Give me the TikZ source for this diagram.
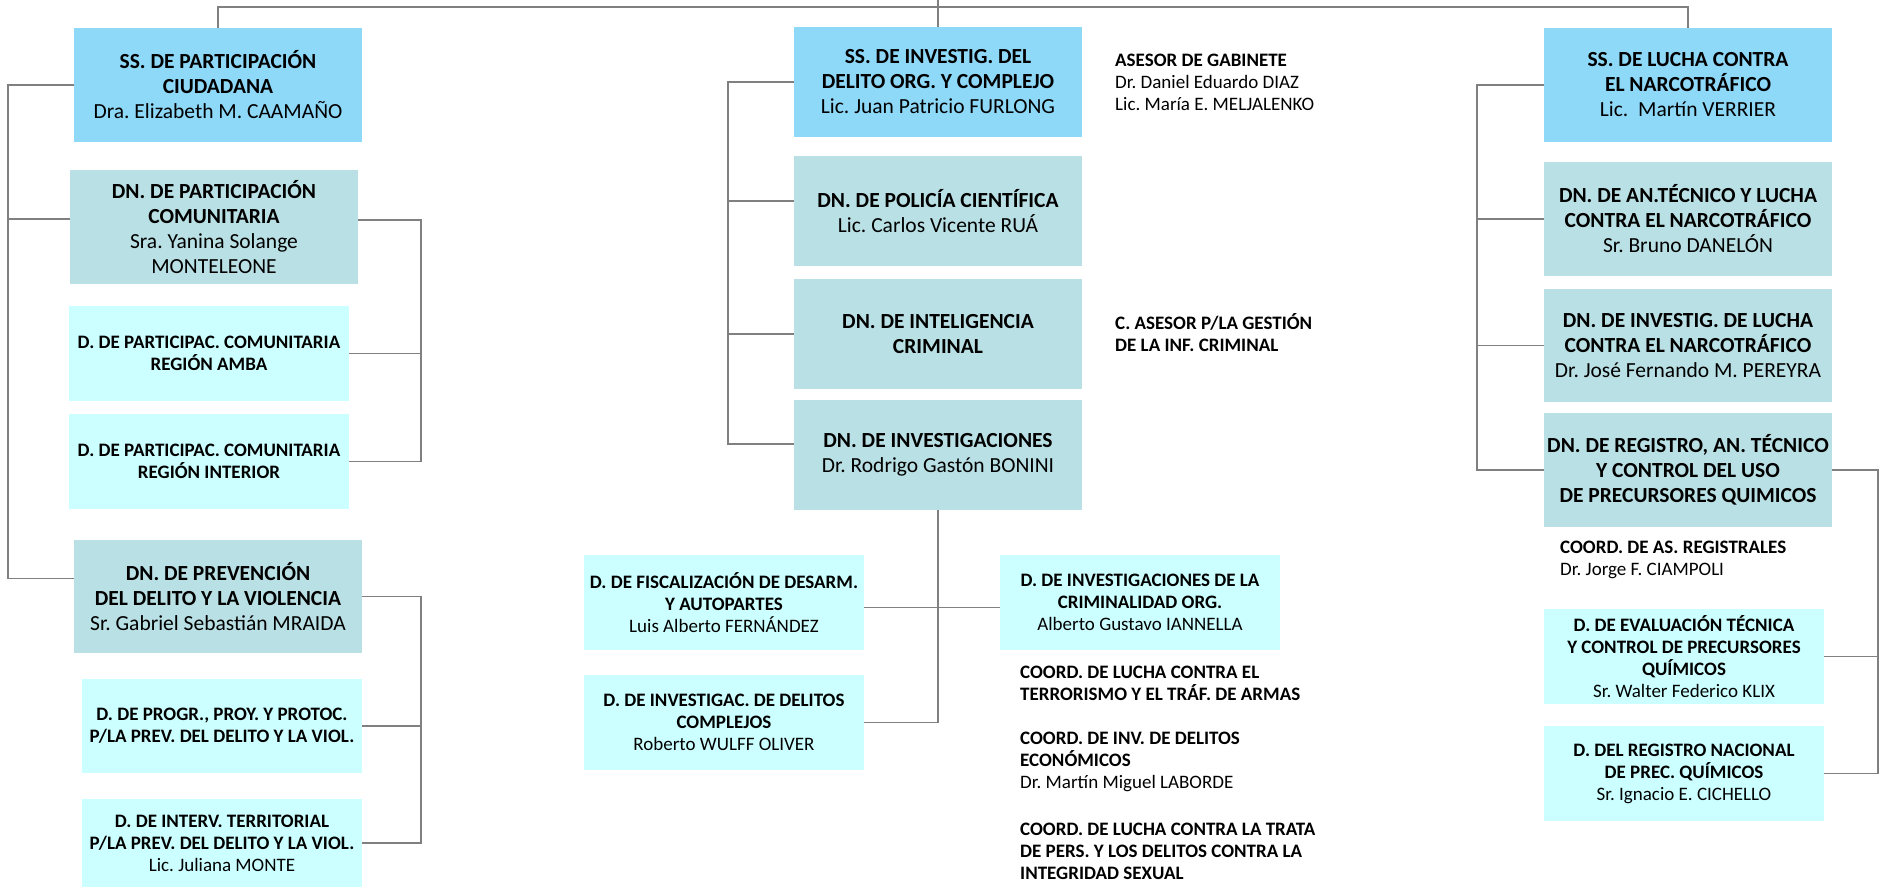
\documentclass[tikz,border=0pt]{standalone}
\usepackage{fontspec}
\setmainfont{Carlito}
\newcommand{\grande}{\fontsize{21.5}{25}\selectfont}
\newcommand{\chico}{\fontsize{19}{22}\selectfont}
\definecolor{celeste}{RGB}{142,216,248}
\definecolor{verdeagua}{RGB}{185,224,228}
\definecolor{cian}{RGB}{204,255,255}
\definecolor{gris}{RGB}{128,128,128}
\frenchspacing

\begin{document}
\begin{tikzpicture}[x=1pt,y=-1pt,
    caja/.style={rectangle,inner sep=0pt,align=center},
    ss/.style={caja,fill=celeste},
    dn/.style={caja,fill=verdeagua},
    dd/.style={caja,fill=cian},
    nota/.style={inner sep=0pt,anchor=west,align=left},
    linea/.style={draw=gris,line width=1.6pt}]

    \useasboundingbox (0,0) rectangle (1885,888);

    % izquierda: participación ciudadana
    \begin{scope}[every node/.append style={font=\grande}]
        \node[ss,minimum width=288pt,minimum height=114pt] (ssp) at (218,85)
            {\textbf{SS. DE PARTICIPACIÓN}\\\textbf{CIUDADANA}\\Dra. Elizabeth M. CAAMAÑO};
        \node[dn,minimum width=288pt,minimum height=114pt] (dnpc) at (214,227)
            {\textbf{DN. DE PARTICIPACIÓN}\\\textbf{COMUNITARIA}\\Sra. Yanina Solange\\MONTELEONE};
        \node[dn,minimum width=288pt,minimum height=113pt] (dnpv) at (218,596.5)
            {\textbf{DN. DE PREVENCIÓN}\\\textbf{DEL DELITO Y LA VIOLENCIA}\\Sr. Gabriel Sebastián MRAIDA};
    \end{scope}
    \begin{scope}[every node/.append style={font=\chico}]
        \node[dd,minimum width=280pt,minimum height=95pt] (amba) at (209,353.5)
            {\textbf{D. DE PARTICIPAC. COMUNITARIA}\\\textbf{REGIÓN AMBA}};
        \node[dd,minimum width=280pt,minimum height=95pt] (inte) at (209,461.5)
            {\textbf{D. DE PARTICIPAC. COMUNITARIA}\\\textbf{REGIÓN INTERIOR}};
        \node[dd,minimum width=280pt,minimum height=94pt] (progr) at (222,726)
            {\textbf{D. DE PROGR., PROY. Y PROTOC.}\\\textbf{P/LA PREV. DEL DELITO Y LA VIOL.}};
        \node[dd,minimum width=280pt,minimum height=88pt] (interv) at (222,843)
            {\textbf{D. DE INTERV. TERRITORIAL}\\\textbf{P/LA PREV. DEL DELITO Y LA VIOL.}\\Lic. Juliana MONTE};
    \end{scope}

    % centro: investigación del delito
    \begin{scope}[every node/.append style={font=\grande}]
        \node[ss,minimum width=288pt,minimum height=110pt] (ssi) at (938,82)
            {\textbf{SS. DE INVESTIG. DEL}\\\textbf{DELITO ORG. Y COMPLEJO}\\Lic. Juan Patricio FURLONG};
        \node[dn,minimum width=288pt,minimum height=110pt] (pol) at (938,211)
            {\textbf{DN. DE POLICÍA CIENTÍFICA}\\Lic. Carlos Vicente RUÁ};
        \node[dn,minimum width=288pt,minimum height=110pt] (intel) at (938,334)
            {\textbf{DN. DE INTELIGENCIA}\\\textbf{CRIMINAL}};
        \node[dn,minimum width=288pt,minimum height=110pt] (inv) at (938,455)
            {\textbf{DN. DE INVESTIGACIONES}\\Dr. Rodrigo Gastón BONINI};
    \end{scope}
    \begin{scope}[every node/.append style={font=\chico}]
        \node[dd,minimum width=280pt,minimum height=95pt] (fisc) at (724,602.5)
            {\textbf{D. DE FISCALIZACIÓN DE DESARM.}\\\textbf{Y AUTOPARTES}\\Luis Alberto FERNÁNDEZ};
        \node[dd,minimum width=280pt,minimum height=95pt] (crim) at (1140,602.5)
            {\textbf{D. DE INVESTIGACIONES DE LA}\\\textbf{CRIMINALIDAD ORG.}\\Alberto Gustavo IANNELLA};
        \node[dd,minimum width=280pt,minimum height=95pt] (comp) at (724,722.5)
            {\textbf{D. DE INVESTIGAC. DE DELITOS}\\\textbf{COMPLEJOS}\\Roberto WULFF OLIVER};

        % asesores y coordinaciones
        \node[nota] (asesor) at (1115,82)
            {\textbf{ASESOR DE GABINETE}\\Dr. Daniel Eduardo DIAZ\\Lic. María E. MELJALENKO};
        \node[nota] (casesor) at (1115,333)
            {\textbf{C. ASESOR P/LA GESTIÓN}\\\textbf{DE LA INF. CRIMINAL}};
        \node[nota] (coordter) at (1020,683.5)
            {\textbf{COORD. DE LUCHA CONTRA EL}\\\textbf{TERRORISMO Y EL TRÁF. DE ARMAS}};
        \node[nota] (coordeco) at (1020,761.5)
            {\textbf{COORD. DE INV. DE DELITOS}\\\textbf{ECONÓMICOS}\\Dr. Martín Miguel LABORDE};
        \node[nota] (coordtrata) at (1020,851.5)
            {\textbf{COORD. DE LUCHA CONTRA LA TRATA}\\\textbf{DE PERS. Y LOS DELITOS CONTRA LA}\\\textbf{INTEGRIDAD SEXUAL}};
    \end{scope}

    % derecha: lucha contra el narcotráfico
    \begin{scope}[every node/.append style={font=\grande}]
        \node[ss,minimum width=288pt,minimum height=114pt] (ssl) at (1688,85)
            {\textbf{SS. DE LUCHA CONTRA}\\\textbf{EL NARCOTRÁFICO}\\Lic.\ \ Martín VERRIER};
        \node[dn,minimum width=288pt,minimum height=114pt] (antec) at (1688,219)
            {\textbf{DN. DE AN.TÉCNICO Y LUCHA}\\\textbf{CONTRA EL NARCOTRÁFICO}\\Sr. Bruno DANELÓN};
        \node[dn,minimum width=288pt,minimum height=113pt] (invl) at (1688,345.5)
            {\textbf{DN. DE INVESTIG. DE LUCHA}\\\textbf{CONTRA EL NARCOTRÁFICO}\\Dr. José Fernando M. PEREYRA};
        \node[dn,minimum width=288pt,minimum height=114pt] (reg) at (1688,470)
            {\textbf{DN. DE REGISTRO, AN. TÉCNICO}\\\textbf{Y CONTROL DEL USO}\\\textbf{DE PRECURSORES QUIMICOS}};
    \end{scope}
    \begin{scope}[every node/.append style={font=\chico}]
        \node[nota] (registrales) at (1560,559.5)
            {\textbf{COORD. DE AS. REGISTRALES}\\Dr. Jorge F. CIAMPOLI};
        \node[dd,minimum width=280pt,minimum height=95pt] (eval) at (1684,656.5)
            {\textbf{D. DE EVALUACIÓN TÉCNICA}\\\textbf{Y CONTROL DE PRECURSORES}\\\textbf{QUÍMICOS}\\Sr. Walter Federico KLIX};
        \node[dd,minimum width=280pt,minimum height=95pt] (regn) at (1684,773.5)
            {\textbf{D. DEL REGISTRO NACIONAL}\\\textbf{DE PREC. QUÍMICOS}\\Sr. Ignacio E. CICHELLO};
    \end{scope}

    % puntos de las llaves
    \coordinate (raiz) at (938,0);
    \coordinate (barra) at (938,7);
    \coordinate (espI) at (8,0);
    \coordinate (espID) at (421,0);
    \coordinate (espM) at (728,0);
    \coordinate (espR) at (1477,0);
    \coordinate (espRD) at (1878,0);
    \coordinate (dnpcI) at ([yshift=8pt]dnpc.west);
    \coordinate (dnpcD) at ([yshift=7pt]dnpc.east);
    \coordinate (dnpvI) at ([yshift=18pt]dnpv.west);
    \coordinate (polI) at ([yshift=10pt]pol.west);
    \coordinate (invI) at ([yshift=11pt]inv.west);
    \coordinate (fiscD) at ([yshift=-5pt]fisc.east);
    \coordinate (crimI) at ([yshift=-5pt]crim.west);

    % línea superior
    \draw[linea] (ssp.north) |- (barra) -| (ssl.north);
    \draw[linea] (raiz) -- (ssi.north);

    % llaves izquierda
    \draw[linea] (ssp.west) -- (ssp.west -| espI) |- (dnpvI);
    \draw[linea] (dnpcI) -- (dnpcI -| espI);
    \draw[linea] (dnpcD) -- (dnpcD -| espID) |- (inte.east);
    \draw[linea] (amba.east) -- (amba.east -| espID);
    \draw[linea] (dnpv.east) -- (dnpv.east -| espID) |- (interv.east);
    \draw[linea] (progr.east) -- (progr.east -| espID);

    % llaves centro
    \draw[linea] (ssi.west) -- (ssi.west -| espM) |- (invI);
    \draw[linea] (polI) -- (polI -| espM);
    \draw[linea] (intel.west) -- (intel.west -| espM);
    \draw[linea] (inv.south) |- (comp.east);
    \draw[linea] (fiscD) -- (crimI);

    % llaves derecha
    \draw[linea] (ssl.west) -- (ssl.west -| espR) |- (reg.west);
    \draw[linea] (antec.west) -- (antec.west -| espR);
    \draw[linea] (invl.west) -- (invl.west -| espR);
    \draw[linea] (reg.east) -- (reg.east -| espRD) |- (regn.east);
    \draw[linea] (eval.east) -- (eval.east -| espRD);

\end{tikzpicture}
\end{document}
